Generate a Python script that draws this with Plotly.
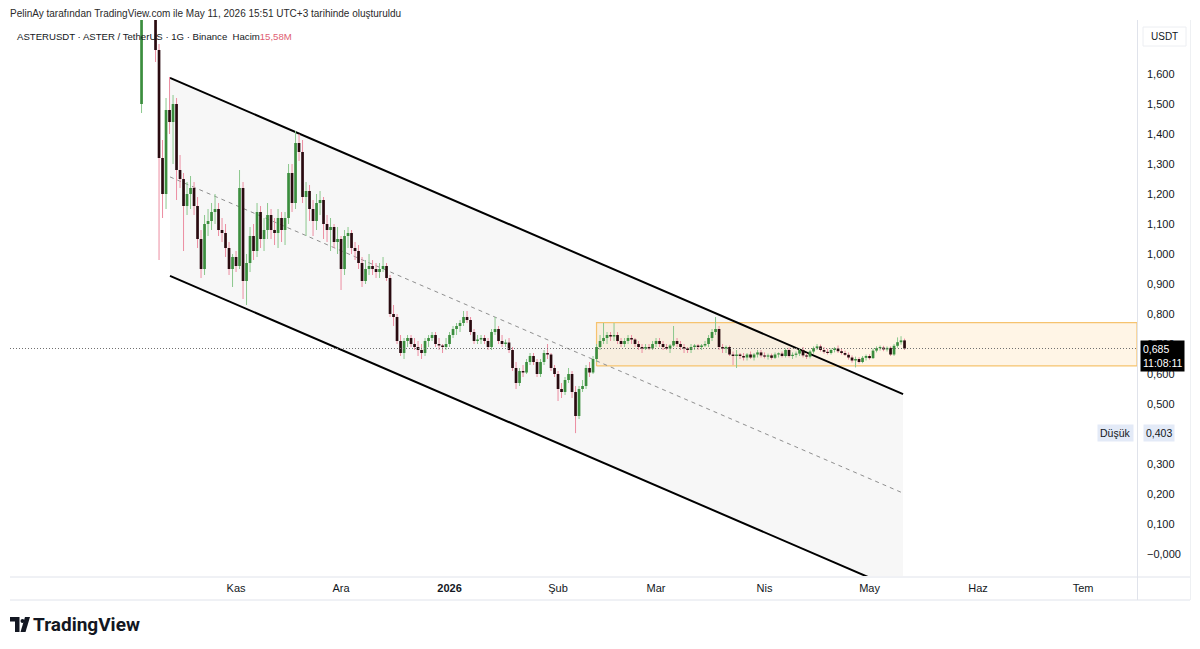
import plotly.graph_objects as go
import pandas as pd

# ---------------- data (daily candles, ASTERUSDT) ----------------
start_date = "2025-10-05"
opens = [
    1.50, 1.93, 1.98, 1.86, 1.91, 1.68, 1.32, 1.20, 1.48, 1.44,
    1.50, 1.28, 1.25, 1.16, 1.20, 1.22, 1.16, 1.05, 0.95, 1.10,
    1.11, 1.14, 1.15, 1.08, 1.07, 1.02, 0.95, 0.99, 0.96, 1.22,
    0.91, 0.97, 1.06, 1.01, 1.14, 1.05, 1.08, 1.13, 1.08, 1.07,
    1.12, 1.08, 1.12, 1.27, 1.17, 1.37, 1.34, 1.19, 1.21, 1.15,
    1.11, 1.17, 1.18, 1.10, 1.08, 1.09, 1.04, 1.05, 0.95, 1.06,
    1.07, 1.02, 1.01, 0.97, 0.91, 0.95, 0.96, 0.95, 0.94, 0.95,
    0.96, 0.92, 0.80, 0.79, 0.71, 0.67, 0.71, 0.72, 0.70, 0.69,
    0.68, 0.67, 0.71, 0.72, 0.73, 0.70, 0.695, 0.69, 0.70, 0.73,
    0.75, 0.76, 0.77, 0.79, 0.78, 0.74, 0.71, 0.715, 0.72, 0.71,
    0.69, 0.74, 0.75, 0.71, 0.70, 0.705, 0.68, 0.62, 0.57, 0.61,
    0.605, 0.64, 0.66, 0.64, 0.60, 0.64, 0.67, 0.665, 0.62, 0.60,
    0.55, 0.54, 0.58, 0.60, 0.54, 0.46, 0.55, 0.56, 0.62, 0.605,
    0.65, 0.69, 0.71, 0.72, 0.73, 0.725, 0.73, 0.71, 0.70, 0.71,
    0.72, 0.715, 0.70, 0.69, 0.685, 0.69, 0.685, 0.70, 0.71, 0.70,
    0.69, 0.685, 0.695, 0.71, 0.70, 0.69, 0.685, 0.68, 0.69, 0.695,
    0.69, 0.695, 0.70, 0.72, 0.74, 0.75, 0.69, 0.685, 0.69, 0.665,
    0.66, 0.665, 0.66, 0.655, 0.665, 0.655, 0.665, 0.672, 0.662, 0.658,
    0.662, 0.654, 0.665, 0.668, 0.660, 0.680, 0.660, 0.664, 0.668, 0.680,
    0.662, 0.658, 0.675, 0.686, 0.692, 0.680, 0.674, 0.670, 0.680, 0.685,
    0.676, 0.670, 0.664, 0.655, 0.645, 0.650, 0.640, 0.654, 0.660, 0.653,
    0.678, 0.686, 0.688, 0.682, 0.687, 0.665, 0.694, 0.706, 0.712,
]
highs = [
    2.02, 2.06, 2.03, 1.96, 1.94, 1.70, 1.38, 1.52, 1.59, 1.53,
    1.52, 1.33, 1.27, 1.24, 1.26, 1.24, 1.19, 1.08, 1.13, 1.15,
    1.17, 1.20, 1.17, 1.12, 1.10, 1.04, 1.00, 1.01, 1.28, 1.24,
    1.00, 1.09, 1.10, 1.17, 1.16, 1.12, 1.17, 1.15, 1.12, 1.15,
    1.14, 1.14, 1.30, 1.30, 1.41, 1.40, 1.38, 1.24, 1.23, 1.18,
    1.20, 1.21, 1.19, 1.13, 1.12, 1.10, 1.09, 1.06, 1.08, 1.09,
    1.08, 1.04, 1.03, 0.99, 0.98, 1.00, 0.98, 0.97, 0.97, 0.99,
    0.97, 0.93, 0.83, 0.80, 0.73, 0.72, 0.73, 0.73, 0.72, 0.71,
    0.70, 0.72, 0.73, 0.74, 0.74, 0.72, 0.70, 0.72, 0.74, 0.76,
    0.77, 0.78, 0.81, 0.81, 0.79, 0.75, 0.73, 0.73, 0.73, 0.72,
    0.75, 0.79, 0.76, 0.73, 0.715, 0.72, 0.69, 0.64, 0.62, 0.63,
    0.65, 0.67, 0.67, 0.65, 0.65, 0.68, 0.70, 0.67, 0.63, 0.61,
    0.57, 0.59, 0.62, 0.61, 0.56, 0.56, 0.58, 0.63, 0.64, 0.66,
    0.70, 0.73, 0.77, 0.74, 0.74, 0.77, 0.74, 0.72, 0.72, 0.73,
    0.73, 0.72, 0.71, 0.70, 0.70, 0.70, 0.71, 0.72, 0.72, 0.71,
    0.70, 0.70, 0.76, 0.72, 0.71, 0.70, 0.69, 0.70, 0.70, 0.70,
    0.70, 0.71, 0.73, 0.75, 0.79, 0.76, 0.70, 0.695, 0.695, 0.675,
    0.68, 0.67, 0.67, 0.67, 0.675, 0.67, 0.68, 0.68, 0.672, 0.668,
    0.668, 0.672, 0.672, 0.675, 0.685, 0.688, 0.672, 0.675, 0.685, 0.690,
    0.670, 0.680, 0.692, 0.700, 0.698, 0.690, 0.684, 0.686, 0.690, 0.695,
    0.684, 0.678, 0.672, 0.662, 0.658, 0.656, 0.660, 0.665, 0.666, 0.685,
    0.692, 0.695, 0.694, 0.692, 0.692, 0.700, 0.722, 0.726, 0.718,
]
lows = [
    1.47, 1.85, 1.82, 1.81, 1.64, 0.98, 1.12, 1.15, 1.40, 1.30,
    1.18, 1.22, 1.01, 1.13, 1.15, 1.13, 1.02, 0.92, 0.93, 1.06,
    1.08, 1.10, 1.06, 1.04, 0.99, 0.93, 0.89, 0.94, 0.95, 0.85,
    0.83, 0.94, 0.98, 0.99, 1.02, 1.01, 1.05, 1.05, 1.03, 1.02,
    1.04, 1.03, 1.10, 1.14, 1.15, 1.31, 1.17, 1.06, 1.11, 1.06,
    1.08, 1.13, 1.05, 1.04, 1.01, 1.02, 1.00, 0.88, 0.93, 1.02,
    1.00, 0.98, 0.95, 0.89, 0.90, 0.93, 0.93, 0.92, 0.92, 0.94,
    0.91, 0.79, 0.76, 0.70, 0.66, 0.65, 0.69, 0.69, 0.68, 0.66,
    0.65, 0.66, 0.69, 0.71, 0.69, 0.68, 0.67, 0.68, 0.69, 0.72,
    0.73, 0.74, 0.76, 0.77, 0.73, 0.70, 0.70, 0.70, 0.70, 0.68,
    0.68, 0.73, 0.70, 0.69, 0.69, 0.67, 0.61, 0.55, 0.56, 0.59,
    0.60, 0.63, 0.63, 0.59, 0.59, 0.63, 0.65, 0.61, 0.59, 0.51,
    0.52, 0.53, 0.57, 0.52, 0.403, 0.45, 0.54, 0.55, 0.59, 0.60,
    0.64, 0.68, 0.70, 0.70, 0.71, 0.71, 0.70, 0.69, 0.69, 0.70,
    0.70, 0.69, 0.68, 0.67, 0.68, 0.68, 0.68, 0.69, 0.69, 0.68,
    0.68, 0.67, 0.69, 0.69, 0.68, 0.67, 0.67, 0.67, 0.68, 0.68,
    0.68, 0.69, 0.69, 0.71, 0.73, 0.68, 0.67, 0.67, 0.66, 0.63,
    0.62, 0.65, 0.645, 0.645, 0.65, 0.645, 0.655, 0.655, 0.652, 0.648,
    0.648, 0.650, 0.655, 0.655, 0.655, 0.655, 0.650, 0.655, 0.660, 0.655,
    0.650, 0.652, 0.668, 0.680, 0.675, 0.668, 0.665, 0.665, 0.672, 0.670,
    0.665, 0.660, 0.648, 0.638, 0.622, 0.635, 0.636, 0.645, 0.648, 0.650,
    0.672, 0.678, 0.676, 0.675, 0.660, 0.660, 0.688, 0.698, 0.680,
]
closes = [
    1.93, 1.98, 1.86, 1.91, 1.68, 1.32, 1.20, 1.48, 1.44, 1.50,
    1.28, 1.25, 1.16, 1.20, 1.22, 1.16, 1.05, 0.95, 1.10, 1.11,
    1.14, 1.15, 1.08, 1.07, 1.02, 0.95, 0.99, 0.96, 1.22, 0.91,
    0.97, 1.06, 1.01, 1.14, 1.05, 1.08, 1.13, 1.08, 1.07, 1.12,
    1.08, 1.12, 1.27, 1.17, 1.37, 1.34, 1.19, 1.21, 1.15, 1.11,
    1.17, 1.18, 1.10, 1.08, 1.09, 1.04, 1.05, 0.95, 1.06, 1.07,
    1.02, 1.01, 0.97, 0.91, 0.95, 0.96, 0.95, 0.94, 0.95, 0.96,
    0.92, 0.80, 0.79, 0.71, 0.67, 0.71, 0.72, 0.70, 0.69, 0.68,
    0.67, 0.71, 0.72, 0.73, 0.70, 0.695, 0.69, 0.70, 0.73, 0.75,
    0.76, 0.77, 0.79, 0.78, 0.74, 0.71, 0.715, 0.72, 0.71, 0.69,
    0.74, 0.75, 0.71, 0.70, 0.705, 0.68, 0.62, 0.57, 0.61, 0.605,
    0.64, 0.66, 0.64, 0.60, 0.64, 0.67, 0.665, 0.62, 0.60, 0.55,
    0.54, 0.58, 0.60, 0.54, 0.46, 0.55, 0.56, 0.62, 0.605, 0.65,
    0.69, 0.71, 0.72, 0.73, 0.725, 0.73, 0.71, 0.70, 0.71, 0.72,
    0.715, 0.70, 0.69, 0.685, 0.69, 0.685, 0.70, 0.71, 0.70, 0.69,
    0.685, 0.695, 0.71, 0.70, 0.69, 0.685, 0.68, 0.69, 0.695, 0.69,
    0.695, 0.70, 0.72, 0.74, 0.75, 0.69, 0.685, 0.69, 0.665, 0.66,
    0.665, 0.66, 0.655, 0.665, 0.655, 0.665, 0.672, 0.662, 0.658, 0.662,
    0.654, 0.665, 0.668, 0.660, 0.680, 0.660, 0.664, 0.668, 0.680, 0.662,
    0.658, 0.675, 0.686, 0.692, 0.680, 0.674, 0.670, 0.680, 0.685, 0.676,
    0.670, 0.664, 0.655, 0.645, 0.650, 0.640, 0.654, 0.660, 0.653, 0.678,
    0.686, 0.688, 0.682, 0.687, 0.665, 0.694, 0.706, 0.712, 0.685,
]

# drawings on the chart (trend channel + range box)
channel_dates = ["2025-10-13 03:00", "2026-05-10 14:00"]
channel_upper = [1.587, 0.533]
channel_lower = [0.927, -0.127]
channel_mid = [1.257, 0.203]
range_box_dates = ["2026-02-12", "2026-07-16 10:00"]
range_box_prices = [0.627, 0.771]

last_price = 0.685
last_price_text = "0,685"
countdown_text = "11:08:11"
low_price = 0.403
low_price_text = "0,403"

y_ticks = [0.0, 0.1, 0.2, 0.3, 0.5, 0.6, 0.7, 0.8, 0.9, 1.0, 1.1, 1.2, 1.3, 1.4, 1.5, 1.6]
y_tick_labels = ["\u22120,000", "0,100", "0,200", "0,300", "0,500", "0,600", "0,700",
                 "0,800", "0,900", "1,000", "1,100", "1,200", "1,300", "1,400", "1,500", "1,600"]
x_tick_dates = ["2025-11-01", "2025-12-01", "2026-01-01", "2026-02-01", "2026-03-01",
                "2026-04-01", "2026-05-01", "2026-06-01", "2026-07-01"]
x_tick_labels = ["Kas", "Ara", "<b>2026</b>", "Şub", "Mar", "Nis", "May", "Haz", "Tem"]
x_range = ["2025-08-28 10:00", "2026-07-16 10:00"]
y_range = [-0.0733, 1.78]

header_text = "PelinAy tarafından TradingView.com ile May 11, 2026 15:51 UTC+3 tarihinde oluşturuldu"
legend_text = "ASTERUSDT · ASTER / TetherUS · 1G · Binance\u00a0\u00a0Hacim"
volume_text = "15,58M"

# ---------------- styling ----------------
W, H = 1200, 649
ML, MR, MT, MB = 10, 63, 20, 73
PW, PH = W - ML - MR, H - MT - MB
FONT = "Liberation Sans, Arial, sans-serif"
TXT = "#131722"
UP_BODY, UP_WICK = "#3b8e3e", "#8cc88e"
DN_BODY, DN_WICK = "#2a0b10", "#ec8ea2"


def pxx(x):
    return (x - ML) / PW


def pxy(y):
    return (H - MB - y) / PH


dates = pd.date_range(start_date, periods=len(closes), freq="D")

fig = go.Figure()

# channel fill
fig.add_trace(go.Scatter(
    x=[channel_dates[0], channel_dates[1], channel_dates[1], channel_dates[0], channel_dates[0]],
    y=[channel_upper[0], channel_upper[1], channel_lower[1], channel_lower[0], channel_upper[0]],
    fill="toself", fillcolor="#f7f7f7", line=dict(width=0), mode="lines", hoverinfo="skip"))

# range box
fig.add_trace(go.Scatter(
    x=[range_box_dates[0], range_box_dates[1], range_box_dates[1], range_box_dates[0], range_box_dates[0]],
    y=[range_box_prices[0], range_box_prices[0], range_box_prices[1], range_box_prices[1], range_box_prices[0]],
    fill="toself", fillcolor="rgba(255,176,60,0.13)", line=dict(width=1.2, color="#f6c36f"),
    mode="lines", hoverinfo="skip"))

# channel lines
fig.add_trace(go.Scatter(x=channel_dates, y=channel_mid, mode="lines",
                         line=dict(color="#8f8f8f", width=1, dash="4px,4px"), hoverinfo="skip"))
fig.add_trace(go.Scatter(x=channel_dates, y=channel_upper, mode="lines",
                         line=dict(color="#000000", width=2), hoverinfo="skip"))
fig.add_trace(go.Scatter(x=channel_dates, y=channel_lower, mode="lines",
                         line=dict(color="#000000", width=2), hoverinfo="skip"))

# wicks (thin) and bodies (thick segments) per direction
for is_up, wcol, bcol in ((True, UP_WICK, UP_BODY), (False, DN_WICK, DN_BODY)):
    wx, wy, bx, by = [], [], [], []
    for d, o, h, l, c in zip(dates, opens, highs, lows, closes):
        if (c >= o) == is_up:
            wx += [d, d, None]
            wy += [l, h, None]
            lo_b, hi_b = min(o, c), max(o, c)
            if hi_b - lo_b < 0.004:
                hi_b = lo_b + 0.004
            bx += [d, d, None]
            by += [lo_b, hi_b, None]
    fig.add_trace(go.Scatter(x=wx, y=wy, mode="lines", line=dict(color=wcol, width=1), hoverinfo="skip"))
    fig.add_trace(go.Scatter(x=bx, y=by, mode="lines", line=dict(color=bcol, width=2.7), hoverinfo="skip"))

shapes = [
    # last price dotted line
    dict(type="line", xref="paper", yref="y", x0=0, x1=1, y0=last_price, y1=last_price,
         line=dict(color="#707070", width=1, dash="1px,2px")),
    # frame lines
    dict(type="line", xref="paper", yref="paper", x0=0, x1=pxx(1190), y0=pxy(577), y1=pxy(577),
         line=dict(color="#e0e3eb", width=1)),
    dict(type="line", xref="paper", yref="paper", x0=0, x1=pxx(1190), y0=pxy(600), y1=pxy(600),
         line=dict(color="#e0e3eb", width=1)),
    dict(type="line", xref="paper", yref="paper", x0=pxx(1137.5), x1=pxx(1137.5), y0=pxy(20), y1=pxy(600),
         line=dict(color="#e0e3eb", width=1)),
    dict(type="line", xref="paper", yref="paper", x0=pxx(1190.5), x1=pxx(1190.5), y0=pxy(20), y1=pxy(600),
         line=dict(color="#eef0f3", width=1)),
    # USDT box
    dict(type="rect", xref="paper", yref="paper", x0=pxx(1143), x1=pxx(1186), y0=pxy(46), y1=pxy(27),
         line=dict(color="#eceef2", width=1), fillcolor="white"),
    # TradingView logo
    dict(type="path", xref="paper", yref="paper", line=dict(width=0), fillcolor=TXT,
         path="M{},{} L{},{} L{},{} L{},{} L{},{} L{},{} Z".format(
             pxx(10), pxy(617), pxx(19.5), pxy(617), pxx(19.5), pxy(632),
             pxx(15), pxy(632), pxx(15), pxy(621.5), pxx(10), pxy(621.5))),
    dict(type="circle", xref="paper", yref="paper", line=dict(width=0), fillcolor=TXT,
         x0=pxx(20.5), x1=pxx(24.5), y0=pxy(623), y1=pxy(619)),
    dict(type="path", xref="paper", yref="paper", line=dict(width=0), fillcolor=TXT,
         path="M{},{} L{},{} L{},{} L{},{} Z".format(
             pxx(25), pxy(617), pxx(30), pxy(617), pxx(25.5), pxy(632), pxx(20.5), pxy(632))),
]

annotations = [
    dict(xref="paper", yref="paper", x=pxx(8), y=pxy(13), xanchor="left", yanchor="middle",
         text=header_text, showarrow=False, font=dict(family=FONT, size=10, color="#2a2a2a")),
    dict(xref="paper", yref="paper", x=pxx(15), y=pxy(36), xanchor="left", yanchor="middle",
         text=legend_text + "<span style='color:#e05e72'>" + volume_text + "</span>",
         showarrow=False, font=dict(family=FONT, size=9.6, color=TXT)),
    dict(xref="paper", yref="paper", x=pxx(1164.5), y=pxy(36.5), xanchor="center", yanchor="middle",
         text="USDT", showarrow=False, font=dict(family=FONT, size=10, color=TXT)),
    dict(xref="paper", yref="paper", x=pxx(1140), y=pxy(340), xanchor="left", yanchor="top",
         text=last_price_text + "<br>" + countdown_text, showarrow=False, align="left",
         bgcolor="#000000", borderpad=2, font=dict(family=FONT, size=10.5, color="white")),
    dict(xref="paper", yref="y", x=pxx(1143), y=low_price, xanchor="left", yanchor="middle",
         text=low_price_text, showarrow=False, bgcolor="#e3eaf7", borderpad=2,
         font=dict(family=FONT, size=10.5, color=TXT)),
    dict(xref="paper", yref="y", x=pxx(1134), y=low_price, xanchor="right", yanchor="middle",
         text="Düşük", showarrow=False, bgcolor="#e3eaf7", borderpad=2,
         font=dict(family=FONT, size=10.5, color=TXT)),
    dict(xref="paper", yref="paper", x=pxx(31), y=pxy(624.5), xanchor="left", yanchor="middle",
         text="<b>TradingView</b>", showarrow=False, font=dict(family="Roboto, Arial, sans-serif", size=19, color=TXT)),
]

fig.update_layout(
    width=W, height=H, margin=dict(l=ML, r=MR, t=MT, b=MB),
    paper_bgcolor="white", plot_bgcolor="white", showlegend=False,
    shapes=shapes, annotations=annotations,
    xaxis=dict(type="date", range=x_range, tickvals=x_tick_dates, ticktext=x_tick_labels,
               showgrid=False, zeroline=False, showline=False, ticks="", ticklabelstandoff=4,
               tickfont=dict(family=FONT, size=11, color=TXT), fixedrange=True),
    yaxis=dict(side="right", range=y_range, tickvals=y_ticks, ticktext=y_tick_labels,
               showgrid=False, zeroline=False, showline=False, ticks="", ticklabelstandoff=9,
               tickfont=dict(family=FONT, size=11, color=TXT), fixedrange=True),
)

fig.write_html("out.html", config={"displayModeBar": False},
               post_script="document.body.style.margin='0px';document.body.style.overflow='hidden';")
